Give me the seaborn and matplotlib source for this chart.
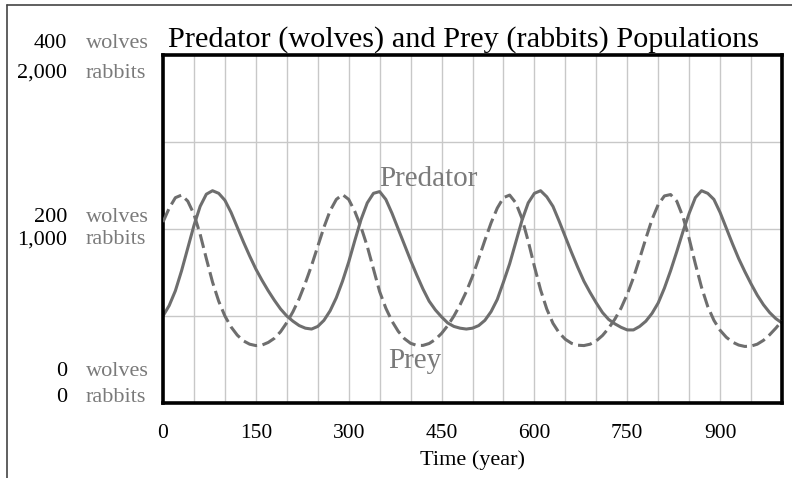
import numpy as np
import matplotlib
matplotlib.use("Agg")
import matplotlib.pyplot as plt
import seaborn as sns
from matplotlib.lines import Line2D

# simulated populations, every 10 years
years = np.arange(0, 1001, 10)

wolves = [100, 112, 129, 152, 178, 204, 226, 240, 244, 241,
          233, 219, 202, 185, 169, 154, 141, 129, 118, 108,
          100, 94, 89, 86, 85, 88, 95, 106, 121, 140,
          162, 187, 211, 230, 241, 243, 234, 218, 200, 182,
          164, 147, 131, 117, 107, 99, 92, 88, 86, 85,
          86, 89, 95, 105, 119, 139, 160, 185, 210, 230,
          241, 244, 237, 226, 209, 191, 173, 156, 140, 127,
          115, 104, 96, 91, 87, 84, 84, 88, 94, 103,
          115, 132, 152, 174, 197, 218, 236, 244, 241, 234,
          219, 201, 183, 166, 151, 137, 124, 113, 104, 97,
          92]

rabbits = [1040, 1120, 1180, 1195, 1160, 1085, 970, 830, 695, 585,
           500, 437, 390, 357, 338, 330, 333, 348, 372, 410,
           462, 525, 600, 690, 790, 900, 1010, 1105, 1170, 1198,
           1170, 1100, 1010, 900, 770, 640, 545, 470, 412, 370,
           343, 331, 331, 342, 365, 400, 445, 500, 565, 640,
           728, 830, 935, 1035, 1120, 1180, 1195, 1150, 1060, 930,
           785, 650, 540, 458, 403, 366, 343, 332, 330, 338,
           357, 388, 430, 482, 545, 625, 720, 830, 945, 1055,
           1140, 1190, 1198, 1160, 1070, 945, 800, 665, 555, 475,
           418, 378, 350, 333, 325, 327, 338, 360, 392, 430,
           472]

wolf_ticks = [0, 200, 400]
rabbit_ticks = ["0", "1,000", "2,000"]
x_ticks = [0, 150, 300, 450, 600, 750, 900]

sns.set_theme(style="white")
plt.rcParams["font.family"] = ["Liberation Serif", "DejaVu Serif"]

line_col = "#6e6e6e"
unit_col = "#7a7a7a"

fig = plt.figure(figsize=(7.92, 4.78), dpi=100)
ax = fig.add_axes([163 / 792, 1 - 403 / 478, 619 / 792, 348 / 478])

sns.lineplot(x=years, y=wolves, ax=ax, color=line_col, linewidth=2.2,
             solid_joinstyle="round", solid_capstyle="round")
ax2 = ax.twinx()
sns.lineplot(x=years, y=rabbits, ax=ax2, color=line_col, linewidth=2.2,
             dashes=(4.6, 1.8), dash_joinstyle="round")

ax.set_xlim(0, 1000)
ax.set_ylim(0, 400)
ax2.set_ylim(0, 2000)

# grid: every 50 years, every 100 wolves
ax.set_xticks(x_ticks)
ax.set_xticks(np.arange(50, 1000, 50), minor=True)
ax.set_yticks([100, 200, 300])
ax.set_yticklabels([])
ax.grid(which="both", axis="x", color="#c8c8c8", linewidth=1.0)
ax.grid(which="major", axis="y", color="#c8c8c8", linewidth=1.0)
ax.tick_params(axis="both", which="both", length=0)
ax.tick_params(axis="x", labelsize=15.5, pad=15, labelcolor="black")
ax2.set_yticks([])
ax2.set_ylabel("")
for s in ax2.spines.values():
    s.set_visible(False)
for s in ax.spines.values():
    s.set_linewidth(2.6)
    s.set_color("black")

ax.set_xlabel("Time (year)", fontsize=16, labelpad=5, color="black")

# stacked Vensim style axis labels
offsets = {0: (31, 5), 200: (12, -11), 400: (11, -18)}
for w, r in zip(wolf_ticks, rabbit_ticks):
    dw, dr = offsets[w]
    ax.annotate(str(w), xy=(0, w), xycoords=("axes fraction", "data"),
                xytext=(-96, dw), textcoords="offset pixels",
                ha="right", va="center", fontsize=16, color="black")
    ax.annotate("wolves", xy=(0, w), xycoords=("axes fraction", "data"),
                xytext=(-77, dw), textcoords="offset pixels",
                ha="left", va="center", fontsize=16, color=unit_col)
    ax.annotate(r, xy=(0, w), xycoords=("axes fraction", "data"),
                xytext=(-96, dr), textcoords="offset pixels",
                ha="right", va="center", fontsize=16, color="black")
    ax.annotate("rabbits", xy=(0, w), xycoords=("axes fraction", "data"),
                xytext=(-77, dr), textcoords="offset pixels",
                ha="left", va="center", fontsize=16, color=unit_col)

ax.text(350, 249, "Predator", fontsize=21, color=unit_col, va="baseline")
ax.text(363, 40, "Prey", fontsize=21, color=unit_col, va="baseline")

fig.text(464 / 792, 1 - 47 / 478, "Predator (wolves) and Prey (rabbits) Populations",
         ha="center", va="baseline", fontsize=21.8, color="black")

# screenshot frame (top and left edges)
fig.add_artist(Line2D([7 / 792, 1], [1 - 5 / 478, 1 - 5 / 478],
                      transform=fig.transFigure, color="#444444", linewidth=1.2))
fig.add_artist(Line2D([7 / 792, 7 / 792], [0, 1 - 5 / 478],
                      transform=fig.transFigure, color="#444444", linewidth=1.2))

fig.savefig("out.png", dpi=100, facecolor="white")
